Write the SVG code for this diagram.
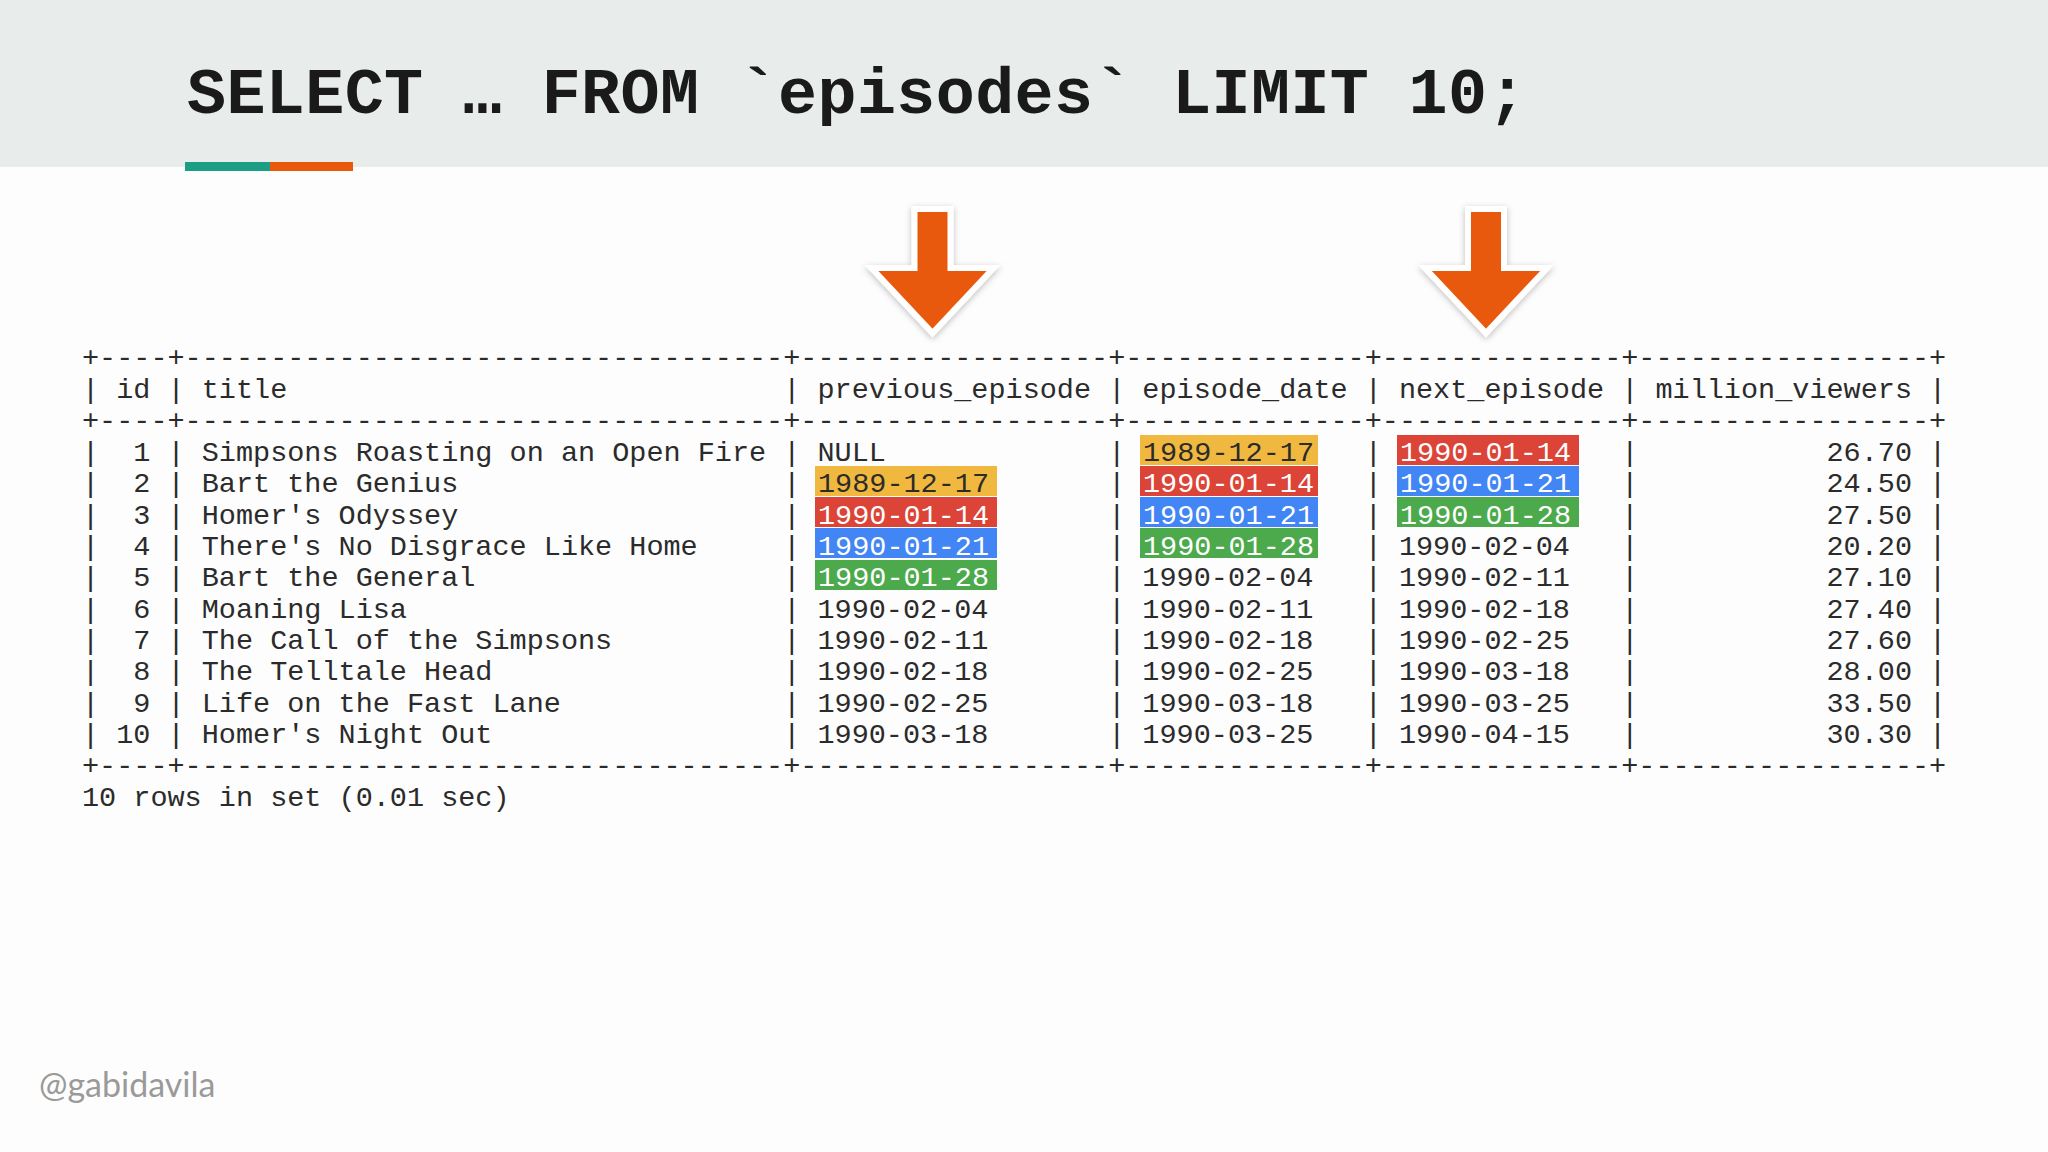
<svg xmlns="http://www.w3.org/2000/svg" width="2048" height="1152" viewBox="0 0 2048 1152">
<style>
.t{font-family:"Liberation Mono",monospace;font-size:28.5px;fill:#2b2b2b;white-space:pre}
.w{fill:#fff}
.ar{fill:#E8590C;stroke:#fff;stroke-width:6;stroke-linejoin:miter}
</style>
<defs><filter id="sh" x="-30%" y="-30%" width="160%" height="160%"><feDropShadow dx="0" dy="2" stdDeviation="3" flood-opacity="0.25"/></filter></defs>
<rect width="2048" height="1152" fill="#fdfdfd"/>
<g id="header">
<rect width="2048" height="167" fill="#e8ecea"/>
<text x="187" y="113" style="font-family:'Liberation Mono',monospace;font-weight:bold;font-size:65px;letter-spacing:0.4px;fill:#1a1a1a;white-space:pre">SELECT … FROM `episodes` LIMIT 10;</text>
<rect x="185" y="162" width="85" height="9" fill="#1a9e86"/>
<rect x="270" y="162" width="83" height="9" fill="#e8590c"/>
</g>
<g id="arrows">
<polygon class="ar" filter="url(#sh)" points="914.5,209 950.5,209 950.5,268 993.5,268 932.5,333 871.5,268 914.5,268"/>
<polygon class="ar" filter="url(#sh)" points="1468,209 1504,209 1504,268 1547,268 1486,333 1425,268 1468,268"/>
</g>
<g id="highlights">
<rect x="815" y="466" width="182" height="30" fill="#f1b83f"/>
<rect x="815" y="497" width="182" height="30" fill="#db4437"/>
<rect x="815" y="528" width="182" height="30" fill="#4285f4"/>
<rect x="815" y="560" width="182" height="30" fill="#4caa4c"/>
<rect x="1140" y="435" width="178" height="30" fill="#f1b83f"/>
<rect x="1140" y="466" width="178" height="30" fill="#db4437"/>
<rect x="1140" y="497" width="178" height="30" fill="#4285f4"/>
<rect x="1140" y="528" width="178" height="30" fill="#4caa4c"/>
<rect x="1397" y="435" width="182" height="30" fill="#db4437"/>
<rect x="1397" y="466" width="182" height="30" fill="#4285f4"/>
<rect x="1397" y="497" width="182" height="30" fill="#4caa4c"/>
</g>
<g id="table" class="t">
<text class="t" x="82" y="366">+----+-----------------------------------+------------------+--------------+--------------+-----------------+</text>
<text class="t" x="82" y="398">| id | title                             | previous_episode | episode_date | next_episode | million_viewers |</text>
<text class="t" x="82" y="429">+----+-----------------------------------+------------------+--------------+--------------+-----------------+</text>
<text class="t" x="82" y="461">|  1 | Simpsons Roasting on an Open Fire | NULL             |              |              |           26.70 |</text>
<text class="t" x="82" y="492">|  2 | Bart the Genius                   |                  |              |              |           24.50 |</text>
<text class="t" x="82" y="524">|  3 | Homer's Odyssey                   |                  |              |              |           27.50 |</text>
<text class="t" x="82" y="555">|  4 | There's No Disgrace Like Home     |                  |              | 1990-02-04   |           20.20 |</text>
<text class="t" x="82" y="586">|  5 | Bart the General                  |                  | 1990-02-04   | 1990-02-11   |           27.10 |</text>
<text class="t" x="82" y="618">|  6 | Moaning Lisa                      | 1990-02-04       | 1990-02-11   | 1990-02-18   |           27.40 |</text>
<text class="t" x="82" y="649">|  7 | The Call of the Simpsons          | 1990-02-11       | 1990-02-18   | 1990-02-25   |           27.60 |</text>
<text class="t" x="82" y="680">|  8 | The Telltale Head                 | 1990-02-18       | 1990-02-25   | 1990-03-18   |           28.00 |</text>
<text class="t" x="82" y="712">|  9 | Life on the Fast Lane             | 1990-02-25       | 1990-03-18   | 1990-03-25   |           33.50 |</text>
<text class="t" x="82" y="743">| 10 | Homer's Night Out                 | 1990-03-18       | 1990-03-25   | 1990-04-15   |           30.30 |</text>
<text class="t" x="82" y="774">+----+-----------------------------------+------------------+--------------+--------------+-----------------+</text>
<text class="t" x="82" y="806">10 rows in set (0.01 sec)</text>
</g>
<g id="hltext" class="t">
<text class="t" x="818" y="492">1989-12-17</text>
<text class="t w" x="818" y="524">1990-01-14</text>
<text class="t w" x="818" y="555">1990-01-21</text>
<text class="t w" x="818" y="586">1990-01-28</text>
<text class="t" x="1143" y="461">1989-12-17</text>
<text class="t w" x="1143" y="492">1990-01-14</text>
<text class="t w" x="1143" y="524">1990-01-21</text>
<text class="t w" x="1143" y="555">1990-01-28</text>
<text class="t w" x="1400" y="461">1990-01-14</text>
<text class="t w" x="1400" y="492">1990-01-21</text>
<text class="t w" x="1400" y="524">1990-01-28</text>
</g>
<text x="39" y="1097" style="font-family:Lato,sans-serif;font-size:34px;fill:#9a9a9a">@gabidavila</text>
</svg>
